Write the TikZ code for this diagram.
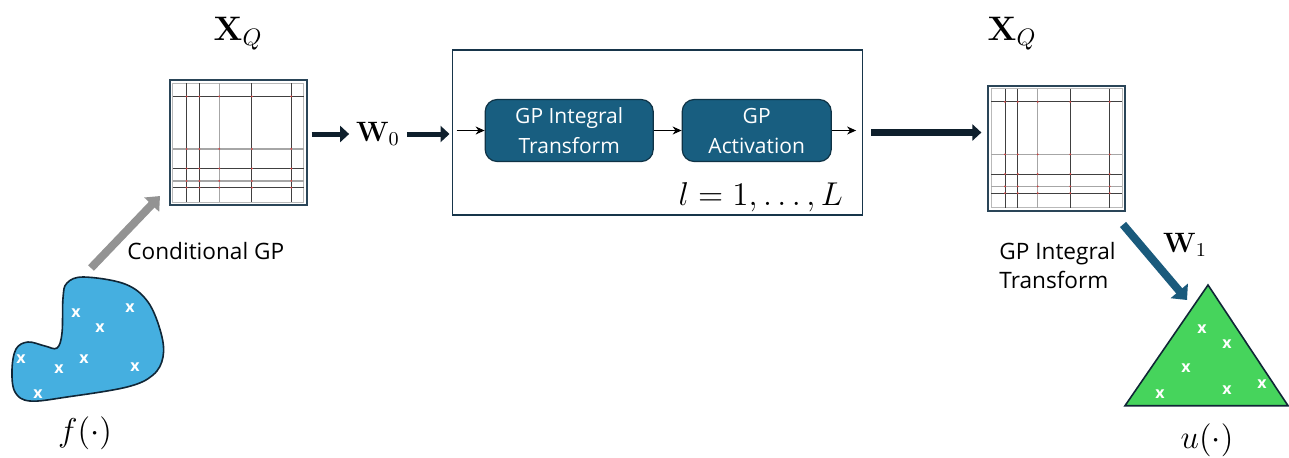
\documentclass[tikz,border=0pt]{standalone}
\usepackage{fix-cm}
\usepackage{amssymb,amsmath}
\usepackage[no-math]{fontspec}
\setmainfont{Open Sans}
\usetikzlibrary{arrows.meta,calc,positioning}

\definecolor{navy}{HTML}{0E1F2C}
\definecolor{boxblue}{HTML}{185E80}
\definecolor{boxedge}{HTML}{0F3346}
\definecolor{frameedge}{HTML}{17354A}
\definecolor{gridedge}{HTML}{2A4558}
\definecolor{blobblue}{HTML}{45AFE0}
\definecolor{shapeedge}{HTML}{102636}
\definecolor{ugreen}{HTML}{46D45C}
\definecolor{ptred}{HTML}{D04040}
\definecolor{wblue}{HTML}{1A5A7C}

\tikzset{
  fatarrow/.style={navy, line width=2.5pt, -{Triangle[width=8pt,length=4.5pt]}},
  thinarrow/.style={black, line width=0.6pt, -{Stealth[width=4pt,length=4.5pt]}},
  layerbox/.style={draw=boxedge, fill=boxblue, rounded corners=6pt, line width=0.6pt,
    text=white, align=center, minimum height=31pt, inner sep=0pt,
    font=\fontsize{10.5}{15}\selectfont},
  pts/.style={text=white, font=\bfseries\fontsize{8}{8}\selectfont, inner sep=0pt},
  plainlabel/.style={font=\fontsize{11.3}{14.5}\selectfont, inner sep=0pt},
  % query grid, drawn round its centre
  qgrid/.pic={
    \node[draw=gridedge, line width=1pt, minimum width=68.3pt, minimum height=62.5pt, inner sep=0pt] (-box) at (0,0) {};
    \draw[gray!55, line width=0.4pt] (-65.5,-59.5) rectangle (65.5,59.5);
    \foreach \gx in {-51.7,-38.9,13.6,53}
      \draw[black!75, line width=0.5pt] (\gx,-59.5) -- (\gx,59.5);
    \draw[gray!70, line width=0.6pt] (-19,-59.5) -- (-19,59.5);
    \foreach \gy in {-46.1,26,45.1}
      \draw[black!75, line width=0.5pt] (-65.5,\gy) -- (65.5,\gy);
    \foreach \gy in {6.4,38.4}
      \draw[gray!70, line width=0.6pt] (-65.5,\gy) -- (65.5,\gy);
    \foreach \gx in {-51.7,-38.9,-19,13.6,53}
      \foreach \gy in {-46.1,6.4,26,38.4,45.1}
        \fill[ptred] (\gx,\gy) circle (0.5pt);
  }
}

\begin{document}
\begin{tikzpicture}[x=0.5pt, y=-0.5pt]
\useasboundingbox (0,0) rectangle (1289,457);

% query point grids
\pic (L) at (238.3,142.5) {qgrid};
\pic (R) at (1056.7,148) {qgrid};
\node[anchor=base, font=\fontsize{17}{17}\selectfont] (xql) at (238,40) {$\mathbf{X}_Q$};
\node[anchor=base, font=\fontsize{17}{17}\selectfont] (xqr) at (1012,40) {$\mathbf{X}_Q$};

% input function on its domain
\draw[fill=blobblue, draw=shapeedge, line width=0.8pt] plot[smooth cycle, tension=0.6] coordinates {
  (63,298) (67,283) (84,277) (125,284) (148,302) (161,333) (163,357) (153,375)
  (127,387) (67,397) (30,401) (15,392) (12,370) (16,349) (28,342) (45,346) (57,348) (62,333)};
\foreach \px/\py [count=\i] in {76/313, 130/308, 100/328, 21/359, 59/369, 84/359, 135/367, 38/394}
  \node[pts] (fx\i) at (\px,\py) {x};
\node[font=\fontsize{16.5}{16.5}\selectfont] (flab) at (85,433) {$f(\cdot)$};

\coordinate (ftop) at (91,268);
\draw[gray!85!white, line width=4pt, -{Triangle[width=10pt,length=6pt]}] (ftop) -- ($(L-box.south west)+(-9,-10)$);
\node[plainlabel, anchor=west] (cgp) at (127,251) {Conditional GP};

% lifting and layers
\node[font=\fontsize{14}{14}\selectfont] (w0) at (378,134) {$\mathbf{W}_0$};
\node[draw=frameedge, line width=0.8pt, minimum width=205pt, minimum height=82.5pt] (layer) at (657.3,132.5) {};
\node[layerbox, minimum width=84pt] (int) at (569.2,130.5) {GP Integral\\Transform};
\node[layerbox, minimum width=74.5pt] (act) at (756.7,130.5) {GP\\Activation};
\node[anchor=base east, font=\fontsize{16.5}{16.5}\selectfont] (lrange) at (850,205) {$l = 1,\ldots,L$};

\draw[fatarrow, shorten <=2pt] (L-box.east |- w0.west) -- (w0.west);
\draw[fatarrow, shorten >=1pt] (w0.east) -- (layer.west |- w0.east);
\draw[thinarrow, shorten <=2.5pt] (layer.west |- int.west) -- (int.west);
\draw[thinarrow] (int.east) -- (act.west);
\draw[thinarrow, shorten >=3.5pt] (act.east) -- (act.east -| layer.east);
\draw[fatarrow, line width=3.5pt, shorten <=4pt, shorten >=3pt] (layer.east) -- (R-box.west |- layer.east);

% projection onto the output function
\coordinate (uapex) at (1208,285);
\draw[fill=ugreen, draw=shapeedge, line width=0.8pt] (uapex) -- (1125,405.7) -- (1288,405.7) -- cycle;
\foreach \px/\py [count=\i] in {1202/329, 1227/344, 1186/368, 1160/394, 1227/390, 1262/384}
  \node[pts] (ux\i) at (\px,\py) {x};
\node[font=\fontsize{16.5}{16.5}\selectfont] (ulab) at (1207,440) {$u(\cdot)$};

\draw[wblue, line width=4pt, -{Triangle[width=11pt,length=6pt]}] ($(R-box.south east)+(-3,13)$) -- ($(uapex)+(-21,15)$);
\node[font=\fontsize{14}{14}\selectfont] (w1) at (1185,245) {$\mathbf{W}_1$};
\node[plainlabel, anchor=west, align=left] (gpit) at (999,266) {GP Integral\\Transform};
\end{tikzpicture}
\end{document}
